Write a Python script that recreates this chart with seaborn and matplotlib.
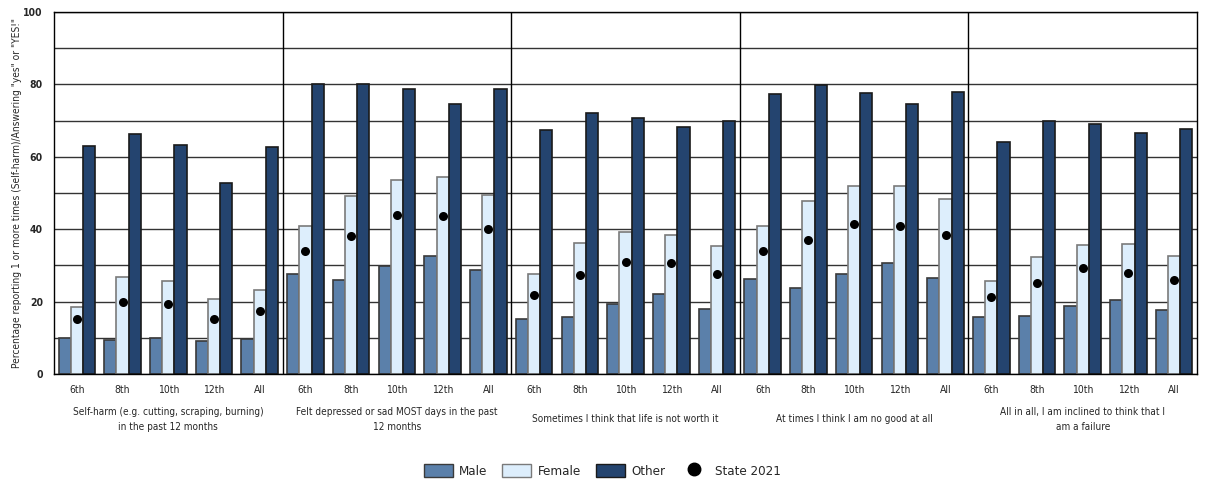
import numpy as np
import pandas as pd
import matplotlib
matplotlib.use("Agg")
import matplotlib.pyplot as plt
from matplotlib.patches import Patch
from matplotlib.lines import Line2D
import seaborn as sns

grades = ["6th", "8th", "10th", "12th", "All"]
questions = [
    "Self-harm (e.g. cutting, scraping, burning)\nin the past 12 months",
    "Felt depressed or sad MOST days in the past\n12 months",
    "Sometimes I think that life is not worth it",
    "At times I think I am no good at all",
    "All in all, I am inclined to think that I\nam a failure",
]
genders = ["Male", "Female", "Other"]

male = [10.0, 9.5, 10.0, 9.0, 9.8,
        27.5, 25.9, 29.9, 32.5, 28.6,
        15.1, 15.7, 19.2, 22.0, 17.9,
        26.3, 23.8, 27.5, 30.7, 26.6,
        15.7, 15.9, 18.7, 20.4, 17.6]
female = [18.5, 26.7, 25.6, 20.8, 23.3,
          40.8, 49.1, 53.5, 54.3, 49.5,
          27.5, 36.3, 39.1, 38.3, 35.4,
          40.8, 47.9, 51.8, 51.8, 48.2,
          25.6, 32.2, 35.7, 36.0, 32.5]
other = [63.0, 66.3, 63.3, 52.8, 62.7,
         80.1, 80.1, 78.6, 74.5, 78.6,
         67.4, 72.0, 70.8, 68.3, 69.9,
         77.3, 79.8, 77.6, 74.6, 77.9,
         64.1, 69.9, 69.1, 66.7, 67.7]
state_2021 = [15.3, 20.0, 19.4, 15.1, 17.5,
              34.0, 38.1, 43.8, 43.6, 40.1,
              21.7, 27.4, 30.8, 30.6, 27.7,
              34.0, 36.9, 41.5, 41.0, 38.5,
              21.4, 25.2, 29.3, 27.8, 26.1]

colors = {"Male": "#5b80aa", "Female": "#ddeefc", "Other": "#24446f"}
edges = {"Male": "#3a3a3a", "Female": "#7a7a7a", "Other": "#1a1a1a"}

slots = [f"{q}|{g}" for q in range(len(questions)) for g in grades]
df = pd.DataFrame({
    "slot": slots * 3,
    "gender": np.repeat(genders, len(slots)),
    "value": male + female + other,
})
state_df = pd.DataFrame({"slot": slots, "value": state_2021})

sns.set_style("white")
plt.rcParams["font.family"] = ["DejaVu Sans"]
plt.rcParams["font.stretch"] = "condensed"

fig = plt.figure(figsize=(12.05, 4.83), dpi=100)
ax = fig.add_axes([0.0448, 0.2257, 0.9486, 0.7495])

sns.barplot(data=df, x="slot", y="value", hue="gender", order=slots,
            hue_order=genders, palette=colors, width=0.8, saturation=1,
            linewidth=1.2, ax=ax, legend=False, zorder=2)
for g, cont in zip(genders, ax.containers):
    for p in cont:
        p.set_edgecolor(edges[g])

sns.stripplot(data=state_df, x="slot", y="value", order=slots, jitter=False,
              color="black", size=6.5, marker="o", ax=ax, zorder=4)

ax.set_xlim(-0.5, len(slots) - 0.5)
ax.set_ylim(0, 100)
ax.set_yticks(np.arange(0, 101, 20))
ax.set_yticks(np.arange(10, 100, 20), minor=True)
ax.grid(axis="y", which="both", color="#333333", linewidth=1)
ax.set_axisbelow(True)
for xb in [4.5, 9.5, 14.5, 19.5]:
    ax.axvline(xb, color="black", linewidth=1, zorder=1)

ax.set_xticks(np.arange(len(slots)))
ax.set_xticklabels(grades * len(questions), fontsize=7.5)
ax.set_xticks(np.arange(-0.5, len(slots)), minor=True)
ax.tick_params(axis="x", which="major", length=0, pad=8)
ax.tick_params(axis="x", which="minor", length=6, width=1, color="black", direction="out")
ax.tick_params(axis="y", which="major", length=6, width=1, color="black",
               direction="out", labelsize=7.5, pad=2)
ax.tick_params(axis="y", which="minor", length=0)
for lab in ax.get_yticklabels():
    lab.set_fontweight("bold")

for s in ax.spines.values():
    s.set_visible(True)
    s.set_color("black")
    s.set_linewidth(1)

ax.set_xlabel("")
ax.set_ylabel('Percentage reporting 1 or more times (Self-harm)/Answering "yes" or "YES!"',
              fontsize=7.3, labelpad=1)

for i, q in enumerate(questions):
    ax.text(i * 5 + 2, -12.5, q, ha="center", va="center", fontsize=7.2,
            transform=ax.transData, clip_on=False, linespacing=1.6)

handles = [Patch(facecolor=colors[g], edgecolor=edges[g], linewidth=1) for g in genders]
handles.append(Line2D([], [], marker="o", color="black", linestyle="none", markersize=9))
fig.legend(handles, genders + ["State 2021"], loc="center", bbox_to_anchor=(0.5, 0.025),
           ncol=4, frameon=False, fontsize=9.5, handlelength=2.2, handleheight=1.1,
           columnspacing=1.1, handletextpad=0.5)

fig.savefig("out.png", dpi=100)
